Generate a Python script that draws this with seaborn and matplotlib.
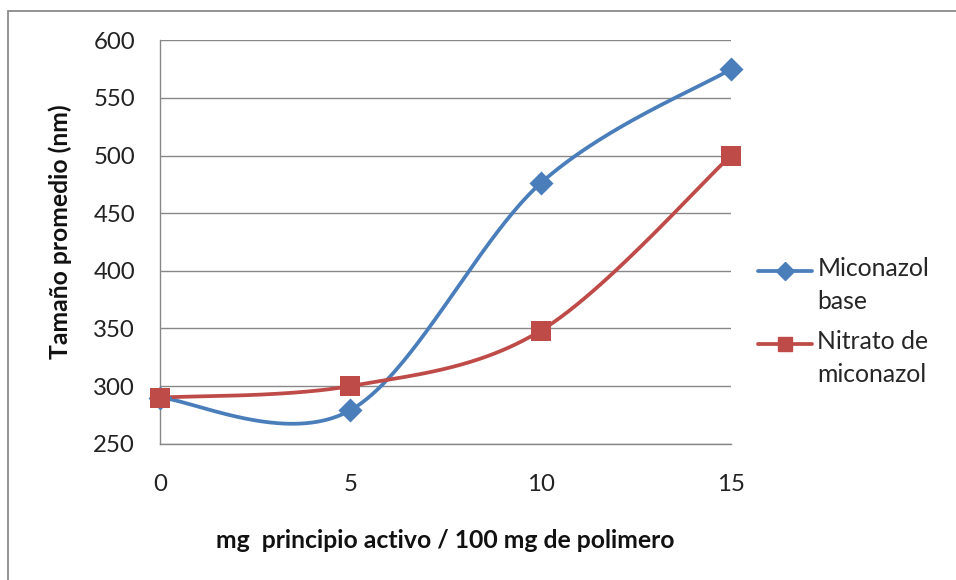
import numpy as np
import pandas as pd
import matplotlib
matplotlib.use("Agg")
import matplotlib.pyplot as plt
import seaborn as sns
from matplotlib.lines import Line2D
from matplotlib.patches import Rectangle
from matplotlib.legend_handler import HandlerLine2D

# Data: mean particle size (nm) vs. drug loading (mg / 100 mg polymer)
dosis = [0, 5, 10, 15]
miconazol_base = [290, 279, 476, 575]
nitrato_miconazol = [290, 300, 348, 500]
series_names = ["Miconazol\nbase", "Nitrato de\nmiconazol"]
colores = ["#4A7EBB", "#BE4B48"]
marcadores = ["D", "s"]
tam_marcador = [150, 220]
y_ticks = [250, 300, 350, 400, 450, 500, 550, 600]
x_ticks = [0, 5, 10, 15]
x_label = "mg  principio activo / 100 mg de polimero"
y_label = "Tamaño promedio (nm)"

LEG_LINESPACING = 1.55


def smooth(x, y, n=80):
    """Smoothed line through the points (cubic Bezier, Catmull-Rom tangents)."""
    pts = np.column_stack([x, y]).astype(float)
    ext = np.vstack([pts[0], pts, pts[-1]])
    t = np.linspace(0, 1, n)[:, None]
    out = []
    for i in range(len(pts) - 1):
        p0, p3 = ext[i + 1], ext[i + 2]
        c1 = p0 + (ext[i + 2] - ext[i]) / 6
        c2 = p3 - (ext[i + 3] - ext[i + 1]) / 6
        seg = ((1 - t) ** 3) * p0 + 3 * ((1 - t) ** 2) * t * c1 \
            + 3 * (1 - t) * (t ** 2) * c2 + (t ** 3) * p3
        out.append(seg if i == 0 else seg[1:])
    return np.vstack(out)


class FirstLineHandler(HandlerLine2D):
    """Legend line aligned with the first line of a two-line label."""

    def create_artists(self, legend, orig_handle, xdescent, ydescent,
                       width, height, fontsize, trans):
        arts = super().create_artists(legend, orig_handle, xdescent, ydescent,
                                      width, height, fontsize, trans)
        shift = 0.5 * LEG_LINESPACING * 0.8 * fontsize
        for a in arts:
            a.set_ydata(np.asarray(a.get_ydata(), dtype=float) + shift)
        return arts


sns.set_style("white")
plt.rcParams["font.family"] = ["Lato", "DejaVu Sans"]

fs_tick = 17.3
fs_lab = 17.8
fig = plt.figure(figsize=(9.56, 5.8), dpi=100)
ax = fig.add_axes([160 / 956, 1 - 443.7 / 580, 571 / 956, 403.4 / 580])

curvas = []
for name, vals in zip(series_names, [miconazol_base, nitrato_miconazol]):
    c = smooth(dosis, vals)
    curvas.append(pd.DataFrame({"x": c[:, 0], "y": c[:, 1], "serie": name}))
curvas = pd.concat(curvas, ignore_index=True)

pal = dict(zip(series_names, colores))
sns.lineplot(data=curvas, x="x", y="y", hue="serie", palette=pal,
             estimator=None, sort=False, linewidth=2.7, legend=False,
             ax=ax, zorder=3)
for name, vals, col, mk, s in zip(series_names,
                                  [miconazol_base, nitrato_miconazol],
                                  colores, marcadores, tam_marcador):
    sns.scatterplot(x=dosis, y=vals, color=col, marker=mk, s=s, linewidth=0,
                    legend=False, ax=ax, zorder=4, clip_on=False)

ax.set_xlim(0, 15)
ax.set_ylim(250, 600)
ax.set_xticks(x_ticks)
ax.set_yticks(y_ticks)
ax.tick_params(axis="both", length=0, labelsize=fs_tick, colors="#222222")
ax.tick_params(axis="y", pad=18)
ax.tick_params(axis="x", pad=22)
ax.yaxis.grid(True, color="#888888", linewidth=1.0)
ax.xaxis.grid(False)
for side in ["top", "right"]:
    ax.spines[side].set_visible(False)
for side in ["left", "bottom"]:
    ax.spines[side].set_color("#888888")
    ax.spines[side].set_linewidth(1.0)

ax.set_xlabel(x_label, fontsize=fs_lab, fontweight="bold", color="#111111")
ax.set_ylabel(y_label, fontsize=fs_lab, fontweight="bold", color="#111111")
ax.xaxis.set_label_coords(0.5, -0.212)
ax.yaxis.set_label_coords(-0.154, 0.525)

handles = [Line2D([0], [0], color=c, marker=m, linewidth=2.7,
                  markersize=9 if m == "D" else 10.5)
           for c, m in zip(colores, marcadores)]
leg = fig.legend(handles, series_names, loc="upper left",
                 bbox_to_anchor=(758 / 956, 1 - 257 / 580), frameon=False,
                 fontsize=fs_lab, handlelength=2.2, handletextpad=0.2,
                 borderpad=0, borderaxespad=0, labelspacing=0.66,
                 handler_map={Line2D: FirstLineHandler()})
for t in leg.get_texts():
    t.set_linespacing(LEG_LINESPACING)

# chart outline
fig.patches.append(Rectangle((8 / 956, -0.05), 1.2, 1 - 10.7 / 580 + 0.05,
                             transform=fig.transFigure, fill=False,
                             edgecolor="#8a8a8a", linewidth=1.3))

fig.savefig("out.png", dpi=100)
